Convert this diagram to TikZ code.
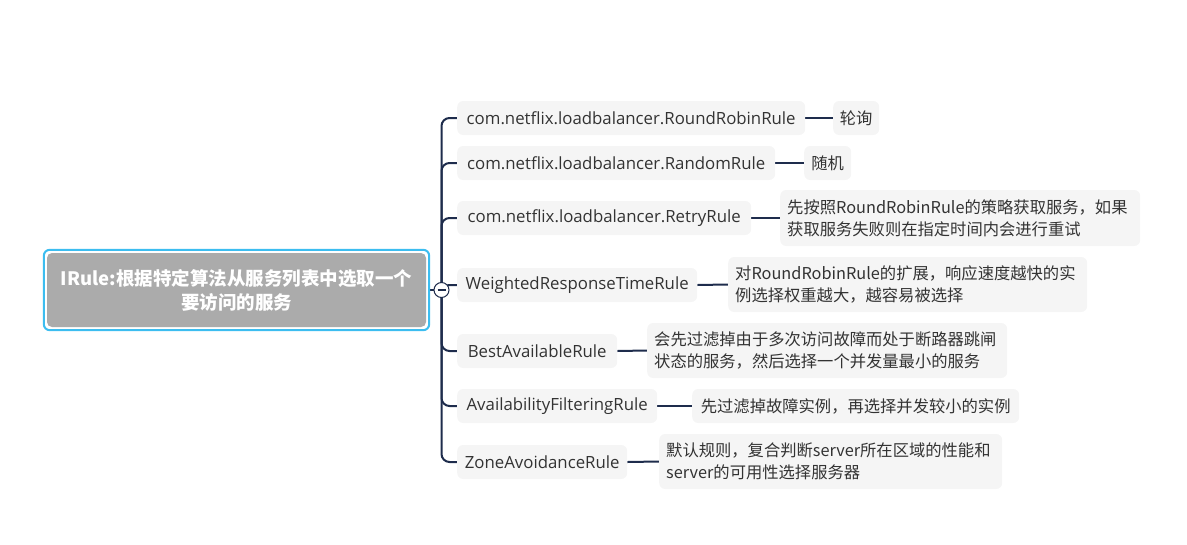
\documentclass[tikz,border=0pt]{standalone}
\usepackage{fontspec}
\setmainfont{Noto Sans CJK SC}
\newfontfamily\rulefont{Open Sans}
\usetikzlibrary{fit,backgrounds}
\definecolor{linknavy}{HTML}{1E2C4C}
\definecolor{boxgray}{HTML}{F5F5F5}
\definecolor{rootgray}{HTML}{ABABAB}
\definecolor{selblue}{HTML}{3CBDF0}
\definecolor{txtgray}{HTML}{333333}
\tikzset{
  rootbox/.style={fill=rootgray, rounded corners=5pt, text=white,
    font=\fontsize{18.5}{24}\selectfont\bfseries, align=center,
    minimum width=379pt, minimum height=74pt, inner sep=0pt},
  selframe/.style={draw=selblue, line width=2pt, rounded corners=6pt, inner sep=3pt},
  rulebox/.style={fill=boxgray, rounded corners=6pt, text=txtgray,
    font=\rulefont\fontsize{16.8}{21}\selectfont, minimum height=34pt, anchor=west, inner sep=0pt},
  notebox/.style={rulebox, align=left, inner xsep=7pt, font=\fontsize{16.3}{22}\selectfont},
  link/.style={draw=linknavy, line width=2pt},
  toggle/.style={circle, draw=linknavy, fill=white, line width=1pt,
    minimum size=15pt, inner sep=0pt},
}
\begin{document}
\begin{tikzpicture}[x=1pt,y=-1pt]
\useasboundingbox (0,0) rectangle (1187,544);

% root
\node[rootbox] (root) at (236.5,290) {IRule:根据特定算法从服务列表中选取一个\\要访问的服务};
\node[selframe, fit=(root)] (rootsel) {};
\node[toggle] (tog) at (441.5,290) {};
\draw[linknavy, line width=1.2pt] ([xshift=-4pt]tog.center) -- ([xshift=4pt]tog.center);

% rules
\node[rulebox, minimum width=348pt] (c1) at (457,118) {com.netflix.loadbalancer.RoundRobinRule};
\node[rulebox, minimum width=318pt] (c2) at (457,163) {com.netflix.loadbalancer.RandomRule};
\node[rulebox, minimum width=294pt] (c3) at (457,218) {com.netflix.loadbalancer.RetryRule};
\node[rulebox, minimum width=240pt] (c4) at (457,285) {WeightedResponseTimeRule};
\node[rulebox, minimum width=160pt] (c5) at (457,351) {BestAvailableRule};
\node[rulebox, minimum width=200pt] (c6) at (457,406) {AvailabilityFilteringRule};
\node[rulebox, minimum width=170pt] (c7) at (457,462) {ZoneAvoidanceRule};

% notes
\node[notebox, minimum width=46pt, inner xsep=0pt, align=center] (n1) at (833,118) {轮询};
\node[notebox, minimum width=47pt, inner xsep=0pt, align=center] (n2) at (804,163) {随机};
\node[notebox, text width=346pt, minimum height=56pt] (n3) at (780,218) {先按照RoundRobinRule的策略获取服务，如果\\获取服务失败则在指定时间内会进行重试};
\node[notebox, text width=345pt, minimum height=55pt] (n4) at (728,284.5) {对RoundRobinRule的扩展，响应速度越快的实\\例选择权重越大，越容易被选择};
\node[notebox, text width=346pt, minimum height=55pt] (n5) at (647,350.5) {会先过滤掉由于多次访问故障而处于断路器跳闸\\状态的服务，然后选择一个并发量最小的服务};
\node[notebox, minimum width=327pt, inner xsep=0pt, align=center] (n6) at (692,406) {先过滤掉故障实例，再选择并发较小的实例};
\node[notebox, text width=329pt, minimum height=55pt] (n7) at (659,461.5) {默认规则，复合判断server所在区域的性能和\\server的可用性选择服务器};

% connectors
\begin{pgfonlayer}{background}
\draw[link] (rootsel.east) -- (tog.center);
\foreach \k in {1,...,7}{
  \draw[link, rounded corners=8pt] (tog.center) |- (c\k.west);
  \draw[link] (c\k.east) -- (n\k.west);
}
\end{pgfonlayer}
\end{tikzpicture}
\end{document}
